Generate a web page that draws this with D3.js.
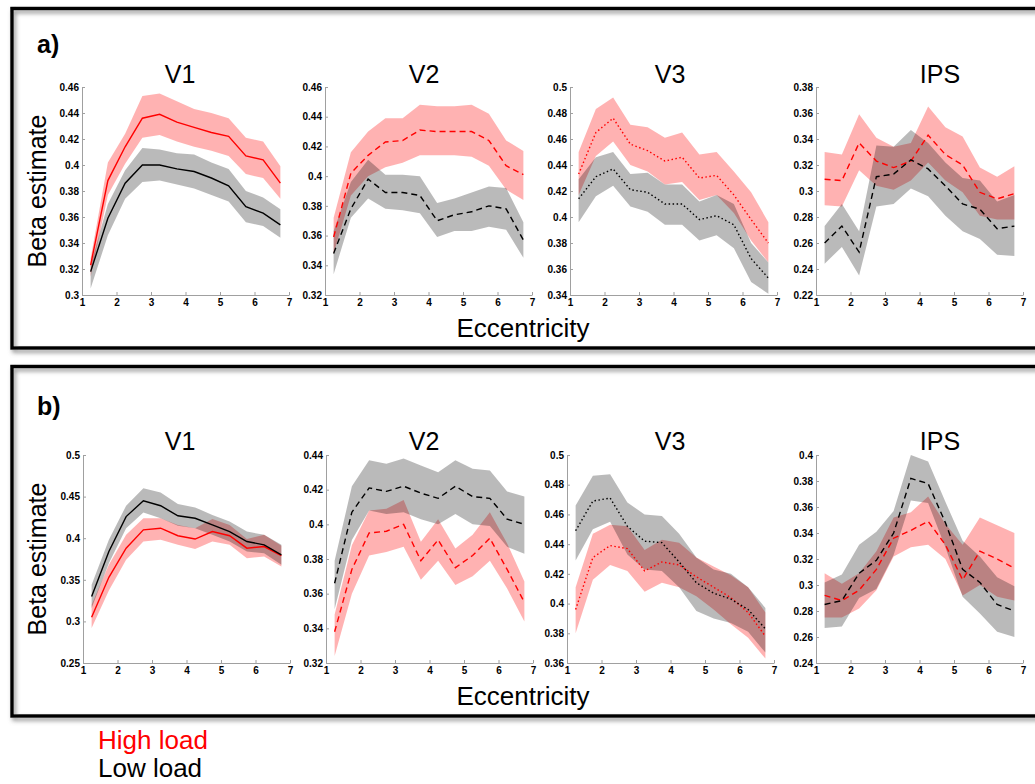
<!DOCTYPE html>
<html>
<head>
<meta charset="utf-8">
<script src="https://cdn.jsdelivr.net/npm/d3@7"></script>
<style>
  body { margin: 0; background: #fff; }
  text { font-family: "Liberation Sans", Arial, sans-serif; }
  .tick text { font-size: 10px; font-weight: bold; fill: #000; }
  .axis path, .axis line { stroke: #a0a0a0; }
</style>
</head>
<body>
<script>
// eccentricity bins (x values) and panel names
var ecc = [1.25, 1.75, 2.25, 2.75, 3.25, 3.75, 4.25, 4.75, 5.25, 5.75, 6.25, 6.75];
var regions = ["V1", "V2", "V3", "IPS"];
var xTicks = [1, 2, 3, 4, 5, 6, 7];

// y ticks per panel
var aTicks_V1 = [0.3, 0.32, 0.34, 0.36, 0.38, 0.4, 0.42, 0.44, 0.46];
var aTicks_V2 = [0.32, 0.34, 0.36, 0.38, 0.4, 0.42, 0.44, 0.46];
var aTicks_V3 = [0.34, 0.36, 0.38, 0.4, 0.42, 0.44, 0.46, 0.48, 0.5];
var aTicks_IPS = [0.22, 0.24, 0.26, 0.28, 0.3, 0.32, 0.34, 0.36, 0.38];
var bTicks_V1 = [0.25, 0.3, 0.35, 0.4, 0.45, 0.5];
var bTicks_V2 = [0.32, 0.34, 0.36, 0.38, 0.4, 0.42, 0.44];
var bTicks_V3 = [0.36, 0.38, 0.4, 0.42, 0.44, 0.46, 0.48, 0.5];
var bTicks_IPS = [0.24, 0.26, 0.28, 0.3, 0.32, 0.34, 0.36, 0.38, 0.4];

// ---- panel a) ----
// V1
var aV1_high   = [0.323, 0.388, 0.414, 0.436, 0.439, 0.433, 0.429, 0.425, 0.422, 0.407, 0.404, 0.386];
var aV1_highHi = [0.328, 0.402, 0.424, 0.453, 0.455, 0.449, 0.443, 0.440, 0.436, 0.421, 0.418, 0.399];
var aV1_highLo = [0.314, 0.377, 0.401, 0.421, 0.423, 0.418, 0.414, 0.411, 0.407, 0.393, 0.390, 0.374];
var aV1_low    = [0.318, 0.359, 0.386, 0.400, 0.400, 0.397, 0.395, 0.390, 0.384, 0.368, 0.363, 0.354];
var aV1_lowHi  = [0.323, 0.370, 0.396, 0.413, 0.412, 0.409, 0.408, 0.402, 0.397, 0.380, 0.375, 0.366];
var aV1_lowLo  = [0.305, 0.346, 0.374, 0.387, 0.388, 0.385, 0.382, 0.377, 0.372, 0.356, 0.353, 0.344];
// V2
var aV2_high   = [0.359, 0.402, 0.414, 0.423, 0.424, 0.431, 0.430, 0.430, 0.430, 0.424, 0.407, 0.401];
var aV2_highHi = [0.372, 0.416, 0.430, 0.439, 0.439, 0.448, 0.447, 0.447, 0.448, 0.442, 0.424, 0.417];
var aV2_highLo = [0.348, 0.387, 0.400, 0.406, 0.409, 0.414, 0.414, 0.414, 0.413, 0.407, 0.391, 0.384];
var aV2_low    = [0.348, 0.378, 0.398, 0.389, 0.389, 0.387, 0.370, 0.374, 0.376, 0.380, 0.378, 0.357];
var aV2_lowHi  = [0.363, 0.396, 0.411, 0.401, 0.401, 0.400, 0.382, 0.385, 0.389, 0.393, 0.392, 0.369];
var aV2_lowLo  = [0.334, 0.372, 0.385, 0.378, 0.377, 0.375, 0.359, 0.363, 0.363, 0.366, 0.364, 0.345];
// V3
var aV3_high   = [0.433, 0.465, 0.476, 0.456, 0.451, 0.443, 0.446, 0.430, 0.432, 0.417, 0.398, 0.380];
var aV3_highHi = [0.450, 0.483, 0.492, 0.471, 0.469, 0.461, 0.465, 0.448, 0.450, 0.435, 0.419, 0.396];
var aV3_highLo = [0.417, 0.447, 0.458, 0.440, 0.435, 0.425, 0.427, 0.413, 0.417, 0.403, 0.382, 0.365];
var aV3_low    = [0.414, 0.431, 0.437, 0.421, 0.419, 0.410, 0.410, 0.398, 0.401, 0.394, 0.368, 0.353];
var aV3_lowHi  = [0.429, 0.446, 0.450, 0.433, 0.434, 0.425, 0.425, 0.412, 0.417, 0.410, 0.380, 0.365];
var aV3_lowLo  = [0.396, 0.416, 0.424, 0.408, 0.404, 0.394, 0.394, 0.382, 0.386, 0.376, 0.350, 0.341];
// IPS
var aIPS_high   = [0.309, 0.308, 0.337, 0.323, 0.318, 0.323, 0.343, 0.328, 0.320, 0.299, 0.294, 0.298];
var aIPS_highHi = [0.330, 0.328, 0.359, 0.341, 0.334, 0.337, 0.365, 0.349, 0.342, 0.318, 0.311, 0.319];
var aIPS_highLo = [0.289, 0.288, 0.316, 0.304, 0.301, 0.308, 0.322, 0.308, 0.299, 0.281, 0.278, 0.278];
var aIPS_low    = [0.260, 0.273, 0.253, 0.311, 0.313, 0.324, 0.317, 0.304, 0.290, 0.286, 0.271, 0.273];
var aIPS_lowHi  = [0.273, 0.290, 0.269, 0.335, 0.334, 0.347, 0.337, 0.322, 0.310, 0.308, 0.292, 0.297];
var aIPS_lowLo  = [0.244, 0.257, 0.235, 0.288, 0.290, 0.302, 0.296, 0.281, 0.269, 0.263, 0.251, 0.250];

// ---- panel b) ----
// V1
var bV1_high   = [0.305, 0.353, 0.388, 0.410, 0.412, 0.403, 0.399, 0.408, 0.403, 0.388, 0.390, 0.379];
var bV1_highHi = [0.320, 0.368, 0.404, 0.424, 0.424, 0.416, 0.412, 0.423, 0.416, 0.399, 0.404, 0.391];
var bV1_highLo = [0.292, 0.337, 0.374, 0.396, 0.398, 0.392, 0.387, 0.396, 0.392, 0.376, 0.378, 0.366];
var bV1_low    = [0.330, 0.384, 0.426, 0.445, 0.439, 0.427, 0.424, 0.416, 0.408, 0.396, 0.392, 0.380];
var bV1_lowHi  = [0.344, 0.398, 0.439, 0.460, 0.455, 0.441, 0.437, 0.428, 0.420, 0.408, 0.404, 0.392];
var bV1_lowLo  = [0.316, 0.370, 0.412, 0.431, 0.424, 0.415, 0.412, 0.404, 0.396, 0.384, 0.382, 0.368];
// V2
var bV2_high   = [0.338, 0.374, 0.395, 0.396, 0.400, 0.379, 0.391, 0.375, 0.382, 0.392, 0.374, 0.355];
var bV2_highHi = [0.348, 0.388, 0.408, 0.409, 0.414, 0.390, 0.403, 0.386, 0.394, 0.407, 0.389, 0.367];
var bV2_highLo = [0.324, 0.360, 0.382, 0.384, 0.387, 0.368, 0.379, 0.365, 0.370, 0.379, 0.363, 0.344];
var bV2_low    = [0.366, 0.407, 0.421, 0.419, 0.422, 0.418, 0.415, 0.422, 0.416, 0.415, 0.403, 0.400];
var bV2_lowHi  = [0.379, 0.422, 0.437, 0.435, 0.438, 0.434, 0.430, 0.437, 0.432, 0.431, 0.419, 0.416];
var bV2_lowLo  = [0.351, 0.391, 0.408, 0.406, 0.407, 0.403, 0.400, 0.406, 0.400, 0.399, 0.387, 0.383];
// V3
var bV3_high   = [0.396, 0.431, 0.439, 0.437, 0.422, 0.428, 0.426, 0.418, 0.411, 0.404, 0.394, 0.378];
var bV3_highHi = [0.411, 0.447, 0.453, 0.452, 0.436, 0.443, 0.441, 0.431, 0.425, 0.419, 0.411, 0.394];
var bV3_highLo = [0.380, 0.416, 0.426, 0.422, 0.408, 0.414, 0.411, 0.405, 0.396, 0.386, 0.377, 0.363];
var bV3_low    = [0.449, 0.469, 0.471, 0.452, 0.442, 0.441, 0.428, 0.414, 0.407, 0.403, 0.396, 0.383];
var bV3_lowHi  = [0.466, 0.486, 0.487, 0.468, 0.460, 0.459, 0.447, 0.431, 0.423, 0.420, 0.411, 0.397];
var bV3_lowLo  = [0.429, 0.450, 0.455, 0.433, 0.423, 0.422, 0.411, 0.395, 0.390, 0.387, 0.381, 0.367];
// IPS
var bIPS_high   = [0.292, 0.288, 0.296, 0.312, 0.336, 0.342, 0.349, 0.331, 0.304, 0.326, 0.320, 0.313];
var bIPS_highHi = [0.309, 0.301, 0.309, 0.326, 0.352, 0.356, 0.368, 0.347, 0.331, 0.352, 0.346, 0.340];
var bIPS_highLo = [0.275, 0.275, 0.282, 0.296, 0.322, 0.329, 0.331, 0.320, 0.292, 0.300, 0.291, 0.288];
var bIPS_low    = [0.285, 0.288, 0.309, 0.319, 0.340, 0.382, 0.378, 0.348, 0.312, 0.302, 0.285, 0.280];
var bIPS_lowHi  = [0.302, 0.308, 0.331, 0.341, 0.357, 0.400, 0.395, 0.364, 0.334, 0.322, 0.306, 0.299];
var bIPS_lowLo  = [0.267, 0.268, 0.290, 0.297, 0.323, 0.365, 0.363, 0.329, 0.291, 0.278, 0.264, 0.260];

// line style per region: V1 solid, V2/IPS dashed, V3 dotted
var dashes = ["none", "6,4", "1.5,2.5", "6,4"];

// panels for each row (built from the arrays above)
var rowA = [
  {ticks: aTicks_V1, high: aV1_high, highHi: aV1_highHi, highLo: aV1_highLo, low: aV1_low, lowHi: aV1_lowHi, lowLo: aV1_lowLo},
  {ticks: aTicks_V2, high: aV2_high, highHi: aV2_highHi, highLo: aV2_highLo, low: aV2_low, lowHi: aV2_lowHi, lowLo: aV2_lowLo},
  {ticks: aTicks_V3, high: aV3_high, highHi: aV3_highHi, highLo: aV3_highLo, low: aV3_low, lowHi: aV3_lowHi, lowLo: aV3_lowLo},
  {ticks: aTicks_IPS, high: aIPS_high, highHi: aIPS_highHi, highLo: aIPS_highLo, low: aIPS_low, lowHi: aIPS_lowHi, lowLo: aIPS_lowLo}
];
var rowB = [
  {ticks: bTicks_V1, high: bV1_high, highHi: bV1_highHi, highLo: bV1_highLo, low: bV1_low, lowHi: bV1_lowHi, lowLo: bV1_lowLo},
  {ticks: bTicks_V2, high: bV2_high, highHi: bV2_highHi, highLo: bV2_highLo, low: bV2_low, lowHi: bV2_lowHi, lowLo: bV2_lowLo},
  {ticks: bTicks_V3, high: bV3_high, highHi: bV3_highHi, highLo: bV3_highLo, low: bV3_low, lowHi: bV3_lowHi, lowLo: bV3_lowLo},
  {ticks: bTicks_IPS, high: bIPS_high, highHi: bIPS_highHi, highLo: bIPS_highLo, low: bIPS_low, lowHi: bIPS_lowHi, lowLo: bIPS_lowLo}
];

// layout
var W = 1035, H = 784;
var plotW = 207;
var rows = [
  {label: "a)", panels: rowA, left: [82, 325, 570, 816], top: 87, bottom: 295, box: [8.5, 348],
   titleY: 83, letterY: 53, eccY: 337, betaY: 191, titleX: [180, 424, 670, 940]},
  {label: "b)", panels: rowB, left: [83, 326, 567, 816], top: 455, bottom: 663, box: [366.5, 716],
   titleY: 450, letterY: 415, eccY: 705, betaY: 559, titleX: [180, 424, 670, 940]}
];

var svg = d3.select("body").append("svg")
    .attr("width", W)
    .attr("height", H);

var defs = svg.append("defs");
defs.append("filter")
    .attr("id", "shadow")
    .attr("x", "-5%").attr("y", "-5%")
    .attr("width", "110%").attr("height", "115%")
  .append("feDropShadow")
    .attr("dx", 2).attr("dy", 3)
    .attr("stdDeviation", 2)
    .attr("flood-color", "#777")
    .attr("flood-opacity", 0.8);

var fmt = d3.format("~g");

rows.forEach(function(row) {

  // frame round the row
  svg.append("rect")
      .attr("x", 12)
      .attr("y", row.box[0])
      .attr("width", 1040)
      .attr("height", row.box[1] - row.box[0])
      .style("fill", "none")
      .style("stroke", "#000")
      .style("stroke-width", 3.5)
      .attr("filter", "url(#shadow)");

  svg.append("text")
      .attr("x", 37)
      .attr("y", row.letterY)
      .style("font-size", "25px")
      .style("font-weight", "bold")
      .text(row.label);

  svg.append("text")
      .attr("transform", "translate(46," + row.betaY + ") rotate(-90)")
      .style("text-anchor", "middle")
      .style("font-size", "25px")
      .text("Beta estimate");

  svg.append("text")
      .attr("x", 523)
      .attr("y", row.eccY)
      .style("text-anchor", "middle")
      .style("font-size", "26px")
      .text("Eccentricity");

  row.panels.forEach(function(p, i) {
    var g = svg.append("g")
        .attr("transform", "translate(" + row.left[i] + "," + row.top + ")");
    var h = row.bottom - row.top;

    var x = d3.scaleLinear().domain([1, 7]).range([0, plotW]);
    var y = d3.scaleLinear()
        .domain([p.ticks[0], p.ticks[p.ticks.length - 1]])
        .range([h, 0]);

    var band = function(lo, hi) {
      return d3.area()
          .x(function(d, j) { return x(ecc[j]); })
          .y0(function(d, j) { return y(lo[j]); })
          .y1(function(d, j) { return y(hi[j]); })(ecc);
    };
    var line = function(v) {
      return d3.line()
          .x(function(d, j) { return x(ecc[j]); })
          .y(function(d, j) { return y(v[j]); })(ecc);
    };

    // shaded error bands
    g.append("path")
        .attr("d", band(p.highLo, p.highHi))
        .style("fill", "rgb(255,0,0)")
        .style("fill-opacity", 0.3);
    g.append("path")
        .attr("d", band(p.lowLo, p.lowHi))
        .style("fill", "#000")
        .style("fill-opacity", 0.27);

    // axes
    g.append("g")
        .attr("class", "axis")
        .attr("transform", "translate(0," + h + ")")
        .call(d3.axisBottom(x).tickValues(xTicks).tickFormat(d3.format("d"))
          .tickSizeInner(-3).tickSizeOuter(0).tickPadding(4));
    g.append("g")
        .attr("class", "axis")
        .call(d3.axisLeft(y).tickValues(p.ticks).tickFormat(fmt)
          .tickSizeInner(-3).tickSizeOuter(0).tickPadding(3));

    // mean lines
    g.append("path")
        .attr("d", line(p.high))
        .style("fill", "none")
        .style("stroke", "#ff0000")
        .style("stroke-width", 1.4)
        .style("stroke-dasharray", dashes[i]);
    g.append("path")
        .attr("d", line(p.low))
        .style("fill", "none")
        .style("stroke", "#000")
        .style("stroke-width", 1.4)
        .style("stroke-dasharray", dashes[i]);

    svg.append("text")
        .attr("x", row.titleX[i])
        .attr("y", row.titleY)
        .style("text-anchor", "middle")
        .style("font-size", "25px")
        .text(regions[i]);
  });
});

// legend below the frames
svg.append("text")
    .attr("x", 98)
    .attr("y", 749)
    .style("font-size", "26px")
    .style("fill", "#ff0000")
    .text("High load");
svg.append("text")
    .attr("x", 98)
    .attr("y", 777)
    .style("font-size", "26px")
    .style("fill", "#000")
    .text("Low load");
</script>
</body>
</html>
